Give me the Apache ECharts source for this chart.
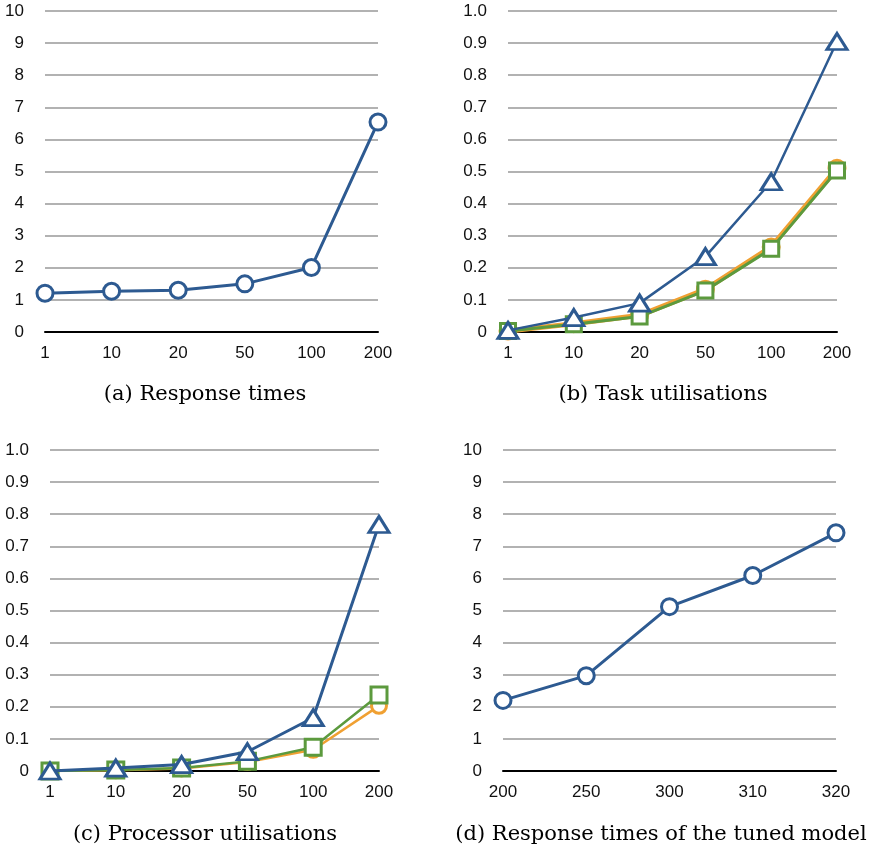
<!DOCTYPE html>
<html>
<head>
<meta charset="utf-8">
<script src="https://cdn.jsdelivr.net/npm/echarts@6/dist/echarts.min.js"></script>
<style>
  html, body { margin: 0; padding: 0; background: #fff; }
  #chart { width: 877px; height: 851px; }
</style>
</head>
<body>
<div id="chart"></div>
<script>
// categories
var clientsAB = ['1', '10', '20', '50', '100', '200']
var clientsD = ['200', '250', '300', '310', '320']

// (a) response times
var respA = [1.21, 1.27, 1.30, 1.50, 2.01, 6.54]

// (b) task utilisations
var taskBlue = [0.005, 0.045, 0.09, 0.235, 0.468, 0.905]
var taskOrange = [0.003, 0.026, 0.052, 0.133, 0.265, 0.51]
var taskGreen = [0.003, 0.024, 0.048, 0.129, 0.259, 0.503]

// (c) processor utilisations
var procBlue = [0, 0.009, 0.02, 0.06, 0.166, 0.768]
var procOrange = [0, 0.002, 0.008, 0.028, 0.066, 0.203]
var procGreen = [0, 0.003, 0.009, 0.03, 0.074, 0.237]

// (d) tuned model response times
var respD = [2.2, 2.97, 5.12, 6.09, 7.42]

var captions = ['(a) Response times', '(b) Task utilisations', '(c) Processor utilisations', '(d) Response times of the tuned model']

var BLUE = '#2d5a91'
var ORANGE = '#f0a032'
var GREEN = '#5c9a3e'

var labelFont = { fontFamily: 'Liberation Sans', fontSize: 17, color: '#111' }
var captionFont = '21px "DejaVu Serif"'

function xAxis(idx, cats) {
  return {
    gridIndex: idx,
    type: 'category',
    data: cats,
    boundaryGap: false,
    axisLine: { lineStyle: { color: '#000', width: 2 } },
    axisTick: { show: false },
    axisLabel: Object.assign({ margin: 13, interval: 0 }, labelFont),
    splitLine: { show: false }
  }
}

function yAxis(idx, max, interval, frac) {
  return {
    gridIndex: idx,
    type: 'value',
    min: 0,
    max: max,
    interval: interval,
    axisLine: { show: false },
    axisTick: { show: false },
    axisLabel: Object.assign({
      margin: 21,
      formatter: function (v) {
        if (v === 0) return '0'
        return frac ? v.toFixed(1) : String(Math.round(v))
      }
    }, labelFont),
    splitLine: { lineStyle: { color: '#999', width: 1.5 } }
  }
}

function series(idx, data, color, symbol, size, lineWidth, z) {
  return {
    type: 'line',
    xAxisIndex: idx,
    yAxisIndex: idx,
    data: data,
    symbol: symbol,
    symbolSize: size,
    z: z,
    lineStyle: { color: color, width: lineWidth },
    itemStyle: { color: '#fff', borderColor: color, borderWidth: 3 },
    emphasis: { disabled: true },
    animation: false
  }
}

function caption(i, x, y) {
  return {
    type: 'text', x: x, y: y,
    style: { text: captions[i], font: captionFont, fill: '#000', textAlign: 'center', textVerticalAlign: 'middle' }
  }
}

var chart = echarts.init(document.getElementById('chart'))
chart.setOption({
  animation: false,
  grid: [
    { left: 45, right: 499, top: 11, bottom: 519 },
    { left: 508, right: 40, top: 11, bottom: 519 },
    { left: 50, right: 498, top: 450, bottom: 80 },
    { left: 503, right: 41, top: 450, bottom: 80 }
  ],
  xAxis: [xAxis(0, clientsAB), xAxis(1, clientsAB), xAxis(2, clientsAB), xAxis(3, clientsD)],
  yAxis: [yAxis(0, 10, 1, false), yAxis(1, 1, 0.1, true), yAxis(2, 1, 0.1, true), yAxis(3, 10, 1, false)],
  series: [
    series(0, respA, BLUE, 'circle', 16, 3, 3),
    series(1, taskOrange, ORANGE, 'circle', 16, 5, 2),
    series(1, taskGreen, GREEN, 'rect', 15, 3, 3),
    series(1, taskBlue, BLUE, 'triangle', [20, 16], 2.5, 4),
    series(2, procOrange, ORANGE, 'circle', 15, 2.5, 2),
    series(2, procGreen, GREEN, 'rect', 16, 2.5, 3),
    series(2, procBlue, BLUE, 'triangle', [20, 16], 3, 4),
    series(3, respD, BLUE, 'circle', 16, 3, 3)
  ],
  graphic: [
    caption(0, 205, 395),
    caption(1, 663, 395),
    caption(2, 205, 835),
    caption(3, 661, 835)
  ]
})
</script>
</body>
</html>
